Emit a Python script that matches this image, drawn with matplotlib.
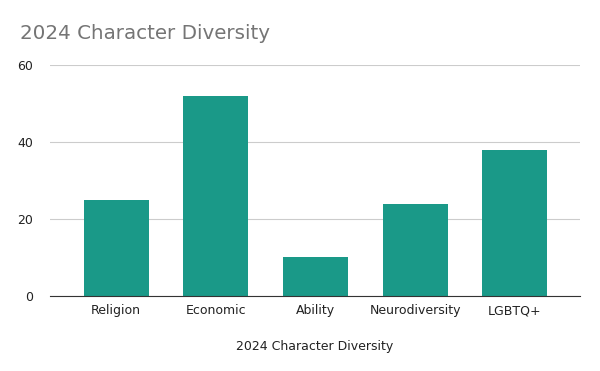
import matplotlib
matplotlib.use("Agg")
import matplotlib.pyplot as plt

categories = ["Religion", "Economic", "Ability", "Neurodiversity", "LGBTQ+"]
counts = [25, 52, 10, 24, 38]
yticks = [0, 20, 40, 60]

fig = plt.figure(figsize=(6, 3.71), dpi=100)
ax = fig.add_axes([0.0833, 0.2022, 0.8834, 0.6226])

ax.bar(range(len(categories)), counts, width=0.65, color="#1a9988", zorder=3)

ax.set_xlim(-0.665, len(categories) - 1 + 0.655)
ax.set_ylim(0, 60)
ax.set_yticks(yticks)
ax.set_xticks(range(len(categories)))
ax.set_xticklabels(categories)
ax.tick_params(axis="both", length=0, labelsize=9, colors="#222222")
ax.tick_params(axis="x", pad=6)
ax.tick_params(axis="y", pad=12)
ax.grid(axis="y", color="#cccccc", linewidth=0.8, zorder=0)

for side in ["top", "right", "left"]:
    ax.spines[side].set_visible(False)
ax.spines["bottom"].set_color("#333333")
ax.spines["bottom"].set_zorder(4)

ax.set_xlabel("2024 Character Diversity", fontsize=9, color="#222222", labelpad=16)
fig.text(0.033, 0.91, "2024 Character Diversity", fontsize=14.3, color="#757575",
         va="center", ha="left")

fig.savefig("out.png", dpi=100, facecolor="white")
